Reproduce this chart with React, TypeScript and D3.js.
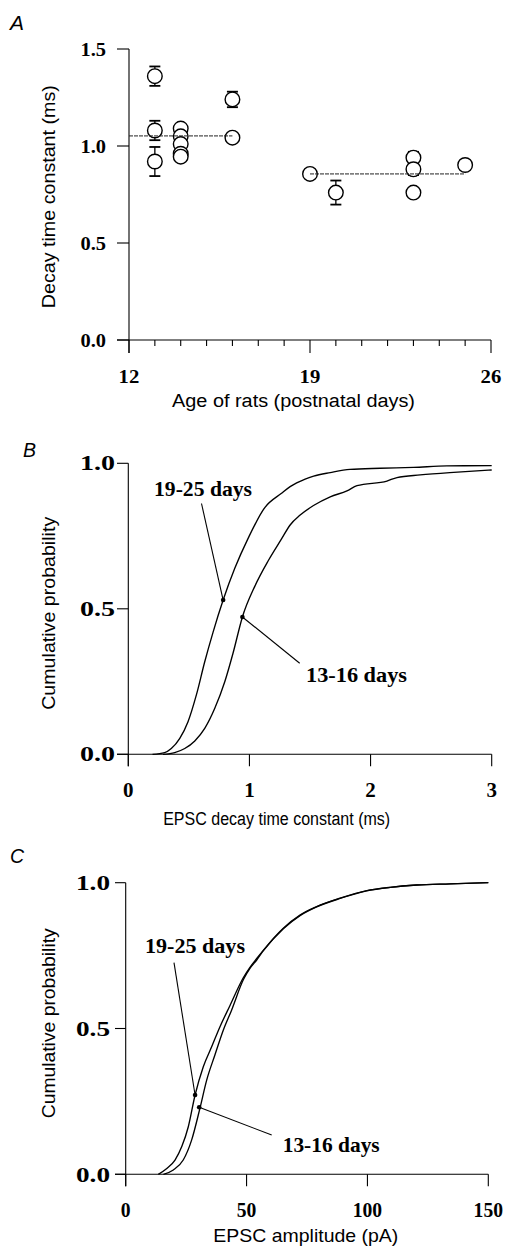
import React from 'react';
import * as d3 from 'd3';

const W = 506;
const H = 1247;
const SERIF = '"Liberation Serif","Times New Roman",Times,serif';
const SANS = '"Liberation Sans",Arial,Helvetica,sans-serif';

// ---------- Panel A: decay time constant vs age ----------
const ageDays = [13, 13, 13, 14, 14, 14, 14, 14, 16, 16, 19, 20, 23, 23, 23, 25];
const decayMs = [1.36, 1.08, 0.92, 1.09, 1.05, 1.01, 0.96, 0.945, 1.24, 1.043, 0.856, 0.76, 0.94, 0.88, 0.76, 0.902];
const decaySem = [0.05, 0.05, 0.075, 0.02, 0.02, 0.02, 0.02, 0.02, 0.04, 0.015, 0.012, 0.062, 0.03, 0.03, 0.012, 0.01];
const meanStartDay = [12, 19];
const meanEndDay = [16, 25];
const meanDecay = [1.052, 0.856];
const ageTicks = [12, 13, 14, 15, 16, 17, 18, 19, 20, 21, 22, 23, 24, 25, 26];
const ageTickLabels = [12, 19, 26];
const decayTicks = [0, 0.5, 1.0, 1.5];

// ---------- Panel B: cumulative decay time constant ----------
const tauOld = [0.2, 0.3, 0.355, 0.425, 0.493, 0.562, 0.631, 0.7, 0.783, 0.879, 0.989, 1.127, 1.265, 1.336, 1.46, 1.53, 1.667, 1.83, 2.08, 2.355, 2.63, 3.0];
const probTauOld = [0, 0.006, 0.02, 0.055, 0.112, 0.204, 0.318, 0.42, 0.53, 0.639, 0.742, 0.848, 0.897, 0.92, 0.946, 0.956, 0.968, 0.979, 0.983, 0.986, 0.991, 0.992];
const tauYoung = [0.287, 0.383, 0.466, 0.549, 0.631, 0.714, 0.797, 0.865, 0.942, 1.045, 1.155, 1.265, 1.336, 1.419, 1.529, 1.667, 1.805, 1.888, 2.135, 2.218, 2.41, 2.686, 3.0];
const probTauYoung = [0, 0.006, 0.02, 0.046, 0.089, 0.158, 0.25, 0.348, 0.472, 0.578, 0.665, 0.74, 0.788, 0.822, 0.855, 0.885, 0.905, 0.923, 0.939, 0.951, 0.96, 0.969, 0.977];
const tauTicks = [0, 1, 2, 3];
const probTicks = [0, 0.5, 1.0];

// ---------- Panel C: cumulative amplitude ----------
const ampOld = [13.5, 17, 20.4, 23.2, 25.9, 28.7, 32.1, 35.6, 39, 43.2, 48.7, 51.4, 54.2, 56.9, 65.2, 72.1, 79, 88.7, 99.7, 109.4, 120.4, 134.2, 150];
const probAmpOld = [0, 0.02, 0.049, 0.095, 0.163, 0.272, 0.369, 0.438, 0.506, 0.58, 0.675, 0.71, 0.74, 0.768, 0.844, 0.889, 0.918, 0.947, 0.973, 0.984, 0.992, 0.996, 1.0];
const ampYoung = [15.6, 19.7, 23.8, 27.3, 30.7, 33.5, 36.9, 40.4, 43.8, 48.7, 51.4, 54.2, 56.9, 65.2, 72.1, 79, 88.7, 99.7, 109.4, 120.4, 134.2, 150];
const probAmpYoung = [0, 0.015, 0.049, 0.118, 0.226, 0.323, 0.409, 0.495, 0.563, 0.668, 0.706, 0.735, 0.766, 0.842, 0.887, 0.917, 0.946, 0.972, 0.984, 0.992, 0.996, 1.0];
const ampTicks = [0, 50, 100, 150];

const groupLabels = ['19-25 days', '13-16 days'];
// curve points the labels point at (data coords)
const tauAnnX = [0.783, 0.942];
const tauAnnY = [0.53, 0.472];
const ampAnnX = [28.7, 30.4];
const ampAnnY = [0.272, 0.23];

type Scale = d3.ScaleLinear<number, number>;

function Axes(props: {
  x: Scale; y: Scale; xTicks: number[]; xMajor: number[]; xLabels: number[];
  yTicks: number[]; yFmt: (v: number) => string; xFmt: (v: number) => string;
  yTickLen: number; majorLen: number; minorLen: number;
  yLabelRight: number; yLabelDy: number; tickFs: number; yLabelLen: number;
  xLabelBase: number; xLabelStretch: number;
}) {
  const { x, y, xTicks, xMajor, xLabels, yTicks, yFmt, xFmt } = props;
  const [x0, x1] = x.range();
  const yBase = y(0);
  const yTop = y(y.domain()[1]);
  return (
    <g stroke="#000" strokeWidth={1.1} fill="none">
      <line x1={x0} x2={x0} y1={yTop} y2={yBase + props.majorLen} />
      <line x1={x0 - props.yTickLen} x2={x1} y1={yBase} y2={yBase} />
      {yTicks.map((t) => (
        <line key={'yt' + t} x1={x0 - props.yTickLen} x2={x0} y1={y(t)} y2={y(t)} />
      ))}
      {xTicks.map((t) => (
        <line key={'xt' + t} x1={x(t)} x2={x(t)} y1={yBase}
          y2={yBase + (xMajor.includes(t) ? props.majorLen : props.minorLen)} />
      ))}
      <g stroke="none" fill="#000" fontFamily={SERIF} fontWeight="bold" fontSize={props.tickFs}>
        {yTicks.map((t) => (
          <text key={'yl' + t} x={props.yLabelRight} y={y(t) + props.yLabelDy} textAnchor="end"
            textLength={props.yLabelLen} lengthAdjust="spacingAndGlyphs">{yFmt(t)}</text>
        ))}
        {xLabels.map((t) => {
          const s = xFmt(t);
          return (
            <text key={'xl' + t} x={x(t)} y={props.xLabelBase} textAnchor="middle"
              textLength={s.length * 0.5 * props.tickFs * props.xLabelStretch}
              lengthAdjust="spacingAndGlyphs">{s}</text>
          );
        })}
      </g>
    </g>
  );
}

function YTitle({ x, cy, text, fs, len }: { x: number; cy: number; text: string; fs: number; len: number }) {
  return (
    <text transform={`translate(${x},${cy}) rotate(-90)`} textAnchor="middle" fontFamily={SANS}
      fontSize={fs} fill="#000" textLength={len} lengthAdjust="spacingAndGlyphs">{text}</text>
  );
}

function XTitle({ cx, y, text, fs, len }: { cx: number; y: number; text: string; fs: number; len: number }) {
  return (
    <text x={cx} y={y} textAnchor="middle" fontFamily={SANS} fontSize={fs} fill="#000"
      textLength={len} lengthAdjust="spacingAndGlyphs">{text}</text>
  );
}

function Annot({ px, py, lx, ly, tx, ty, label, len }: { px: number; py: number; lx: number; ly: number; tx: number; ty: number; label: string; len: number }) {
  return (
    <g>
      <line x1={lx} y1={ly} x2={px} y2={py} stroke="#000" strokeWidth={1.1} />
      <circle cx={px} cy={py} r={2.3} fill="#000" />
      <text x={tx} y={ty} fontFamily={SERIF} fontWeight="bold" fontSize={21.5} fill="#000"
        textLength={len} lengthAdjust="spacingAndGlyphs">{label}</text>
    </g>
  );
}

export default function App() {
  // Panel A scales
  const xA = d3.scaleLinear().domain([12, 26]).range([129, 491]);
  const yA = d3.scaleLinear().domain([0, 1.5]).range([340, 49]);
  // Panel B scales
  const xB = d3.scaleLinear().domain([0, 3]).range([128.3, 491.7]);
  const yB = d3.scaleLinear().domain([0, 1]).range([754.3, 463.3]);
  // Panel C scales
  const xC = d3.scaleLinear().domain([0, 150]).range([125.7, 488.3]);
  const yC = d3.scaleLinear().domain([0, 1]).range([1174.3, 882.7]);

  const mkLine = (x: Scale, y: Scale) =>
    d3.line<[number, number]>().x((d) => x(d[0])).y((d) => y(d[1])).curve(d3.curveMonotoneX);
  const lineB = mkLine(xB, yB);
  const lineC = mkLine(xC, yC);
  const zip = (a: number[], b: number[]) => a.map((v, i) => [v, b[i]] as [number, number]);

  const capW = 5.5;
  const r = 7.3;

  return (
    <svg width={W} height={H} style={{ position: 'absolute', left: 0, top: 0, background: '#fff' }}>
      <rect x={0} y={0} width={W} height={H} fill="#fff" />

      {/* ---------------- Panel A ---------------- */}
      <text x={10} y={30} fontFamily={SANS} fontStyle="italic" fontSize={21} fill="#000">A</text>
      <Axes x={xA} y={yA} xTicks={ageTicks} xMajor={ageTickLabels} xLabels={ageTickLabels}
        yTicks={decayTicks} yFmt={(v) => v.toFixed(1)} xFmt={(v) => String(v)}
        yTickLen={12} majorLen={13} minorLen={6} yLabelRight={106} yLabelDy={6.5}
        tickFs={18.5} yLabelLen={25.5} xLabelBase={382.5} xLabelStretch={1.12} />
      <g stroke="#000" strokeWidth={1.3}>
        {ageDays.map((d, i) => (
          <g key={'eb' + i}>
            <line x1={xA(d)} x2={xA(d)} y1={yA(decayMs[i] - decaySem[i])} y2={yA(decayMs[i] + decaySem[i])} />
            <line x1={xA(d) - capW} x2={xA(d) + capW} y1={yA(decayMs[i] + decaySem[i])} y2={yA(decayMs[i] + decaySem[i])} strokeWidth={1.8} />
            <line x1={xA(d) - capW} x2={xA(d) + capW} y1={yA(decayMs[i] - decaySem[i])} y2={yA(decayMs[i] - decaySem[i])} strokeWidth={1.8} />
          </g>
        ))}
      </g>
      <g stroke="#000" strokeWidth={1.4} fill="#fff">
        {ageDays.map((d, i) => (
          <circle key={'pt' + i} cx={xA(d)} cy={yA(decayMs[i])} r={r} />
        ))}
      </g>
      <g stroke="#222" strokeWidth={1}>
        {meanDecay.map((m, i) => (
          <line key={'mn' + i} x1={xA(meanStartDay[i])} x2={xA(meanEndDay[i])} y1={yA(m)} y2={yA(m)} strokeDasharray="4 1" />
        ))}
      </g>
      <YTitle x={55} cy={196.7} text="Decay time constant (ms)" fs={18.5} len={223} />
      <XTitle cx={293.5} y={407} text="Age of rats (postnatal days)" fs={18} len={243} />

      {/* ---------------- Panel B ---------------- */}
      <text x={23} y={456.7} fontFamily={SANS} fontStyle="italic" fontSize={19.5} fill="#000">B</text>
      <Axes x={xB} y={yB} xTicks={tauTicks} xMajor={tauTicks} xLabels={tauTicks}
        yTicks={probTicks} yFmt={(v) => v.toFixed(1)} xFmt={(v) => String(v)}
        yTickLen={11.3} majorLen={12} minorLen={6} yLabelRight={115} yLabelDy={6.9}
        tickFs={20} yLabelLen={35} xLabelBase={796.7} xLabelStretch={1.05} />
      <g fill="none" stroke="#000" strokeWidth={1.35}>
        <path d={lineB(zip(tauOld, probTauOld)) || ''} />
        <path d={lineB(zip(tauYoung, probTauYoung)) || ''} />
      </g>
      <Annot px={xB(tauAnnX[0])} py={yB(tauAnnY[0])} lx={201.5} ly={503.5} tx={154} ty={496} label={groupLabels[0]} len={98} />
      <Annot px={xB(tauAnnX[1])} py={yB(tauAnnY[1])} lx={299.7} ly={663.3} tx={306} ty={681.7} label={groupLabels[1]} len={101} />
      <YTitle x={55} cy={613.3} text="Cumulative probability" fs={19} len={193} />
      <XTitle cx={276.7} y={824.5} text="EPSC decay time constant (ms)" fs={18} len={227} />

      {/* ---------------- Panel C ---------------- */}
      <text x={10} y={863.3} fontFamily={SANS} fontStyle="italic" fontSize={19.5} fill="#000">C</text>
      <Axes x={xC} y={yC} xTicks={ampTicks} xMajor={ampTicks} xLabels={ampTicks}
        yTicks={probTicks} yFmt={(v) => v.toFixed(1)} xFmt={(v) => String(v)}
        yTickLen={10.7} majorLen={12} minorLen={6} yLabelRight={110} yLabelDy={7.2}
        tickFs={20} yLabelLen={34} xLabelBase={1216.7} xLabelStretch={0.98} />
      <g fill="none" stroke="#000" strokeWidth={1.35}>
        <path d={lineC(zip(ampOld, probAmpOld)) || ''} />
        <path d={lineC(zip(ampYoung, probAmpYoung)) || ''} />
      </g>
      <Annot px={xC(ampAnnX[0])} py={yC(ampAnnY[0])} lx={174} ly={962.7} tx={145} ty={953.3} label={groupLabels[0]} len={100} />
      <Annot px={xC(ampAnnX[1])} py={yC(ampAnnY[1])} lx={271.7} ly={1135} tx={282.7} ty={1151.7} label={groupLabels[1]} len={97} />
      <YTitle x={55} cy={1023.3} text="Cumulative probability" fs={19} len={190} />
      <XTitle cx={305.8} y={1242} text="EPSC amplitude (pA)" fs={19} len={185} />
    </svg>
  );
}
